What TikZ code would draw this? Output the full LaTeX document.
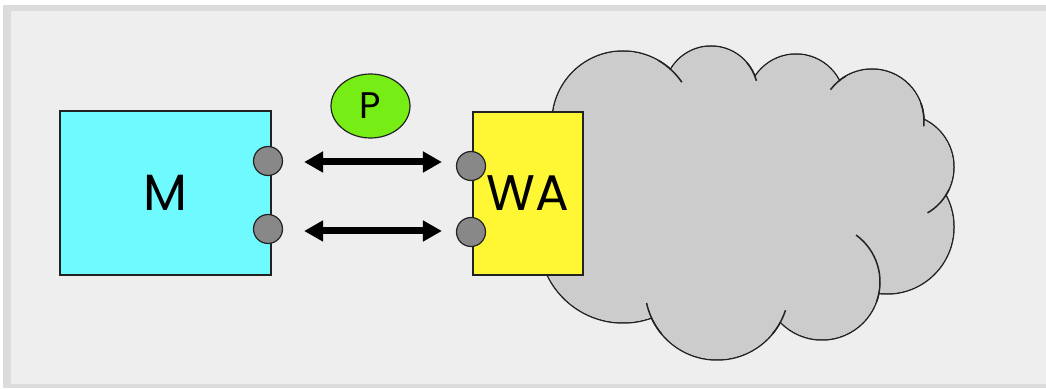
\documentclass[tikz,border=0pt]{standalone}
\usepackage{fontspec}
\setmainfont{Poppins}
\usetikzlibrary{arrows.meta,shapes.geometric}
\definecolor{framegray}{HTML}{DCDCDC}
\definecolor{panelgray}{HTML}{EEEEEE}
\definecolor{mcyan}{RGB}{110,250,255}
\definecolor{wayellow}{RGB}{255,247,51}
\definecolor{pgreen}{RGB}{118,238,22}
\definecolor{portgray}{HTML}{888888}
\definecolor{cloudgray}{HTML}{CCCCCC}
\definecolor{inkline}{HTML}{222222}

\begin{document}
\begin{tikzpicture}[x=1pt,y=1pt,
  box/.style={draw=inkline, line width=1.5pt, rectangle, inner sep=0pt},
  port/.style={circle, draw=inkline, line width=1.2pt, fill=portgray, minimum size=29pt, inner sep=0pt},
  link/.style={line width=7pt, arrows={Triangle[length=19pt,width=20pt]-Triangle[length=19pt,width=20pt]}},
  puff/.style={draw=inkline, line width=1.5pt},
  ]
\useasboundingbox (0,0) rectangle (1046,388);
% panel with its frame
\fill[white] (0,0) rectangle (1046,388);
\fill[framegray] (3,0) rectangle (1046,383);
\fill[panelgray] (11,4) rectangle (1046,377);

% cloud: outlines of all puffs, then the filled body, then the inner hooks
\foreach \cx/\cy/\r in {623/266/71pt, 711/295/47pt, 796/285/49pt, 872/267/52pt, 901/221/53pt,
                        887/161/67pt, 822/106/58pt, 717/100/72pt, 623/149/84pt}
  \draw[puff] (\cx,\cy) circle[radius=\r];
\foreach \cx/\cy/\r in {623/266/71pt, 711/295/47pt, 796/285/49pt, 872/267/52pt, 901/221/53pt,
                        887/161/67pt, 822/106/58pt, 717/100/72pt, 623/149/84pt}
  \fill[cloudgray] (\cx,\cy) circle[radius=\r-0.75pt];
\fill[cloudgray] (623,266) -- (711,295) -- (796,285) -- (872,267) -- (901,221)
  -- (887,161) -- (822,106) -- (717,100) -- (623,149) -- cycle;
\foreach \cx/\cy/\r/\a/\b in {623/266/71pt/60/34, 711/295/47pt/40/15, 872/267/52pt/120/143,
                              872/267/52pt/20/-6, 901/221/53pt/-25/-60, 822/106/58pt/-20/54,
                              717/100/72pt/-40/-18, 717/100/72pt/-140/-168}
  \draw[puff] (\cx,\cy) ++(\a:\r) arc[start angle=\a, end angle=\b, radius=\r];

% blocks
\node[box, fill=mcyan, minimum width=211pt, minimum height=164pt] (m) at (165.5,195)
  {\fontsize{51pt}{51pt}\selectfont\raisebox{-4pt}{M}};
\node[box, fill=wayellow, minimum width=110pt, minimum height=163pt] (wa) at (528,194.5)
  {\fontsize{50pt}{50pt}\selectfont\raisebox{-4pt}{WA}};
\node[ellipse, draw=inkline, line width=1.2pt, fill=pgreen, minimum width=79pt,
      minimum height=64pt, inner sep=0pt] (p) at (370.5,282)
  {\fontsize{37pt}{37pt}\selectfont\raisebox{-3pt}{P}};

% ports
\node[port] (mp1) at (268,227) {};
\node[port] (mp2) at (268,159) {};
\node[port] (wp1) at (471,222) {};
\node[port] (wp2) at (471,156) {};

% links
\draw[link, shorten <=21pt, shorten >=14pt] ([yshift=-1pt]mp1.east) -- ([yshift=-1pt]mp1.east -| wp1.west);
\draw[link, shorten <=21pt, shorten >=14pt] ([yshift=-2pt]mp2.east) -- ([yshift=-2pt]mp2.east -| wp2.west);
\end{tikzpicture}
\end{document}
